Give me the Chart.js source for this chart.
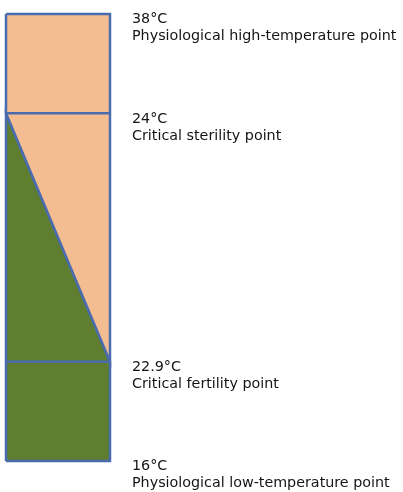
<!DOCTYPE html>
<html>
<head>
<meta charset="utf-8">
<script src="https://cdn.jsdelivr.net/npm/chart.js@4.4.0/dist/chart.umd.min.js"></script>
<style>
  html, body { margin: 0; padding: 0; background: #fff; }
  #wrap { width: 403px; height: 492px; }
</style>
</head>
<body>
<div id="wrap"><canvas id="temp-chart"></canvas></div>
<script>
const temperatures = ['38°C', '24°C', '22.9°C', '16°C'];
const pointNames = [
    'Physiological high-temperature point',
    'Critical sterility point',
    'Critical fertility point',
    'Physiological low-temperature point'
];
// height of each point in the column (schematic, not to scale)
const levels = [4.5, 3.5, 1, 0];

const peach = '#F3BD91';
const green = '#5F7E30';
const blue = '#4A6BAE';

document.addEventListener('DOMContentLoaded', () => {
    const ctx = document.getElementById('temp-chart').getContext('2d');

    const [top, sterile, fertile, bottom] = levels;

    // upper part: above the diagonal from sterility point to fertility point
    const peachShape = [
        { x: 0, y: top }, { x: 1, y: top }, { x: 1, y: fertile },
        { x: 0, y: sterile }, { x: 0, y: top }
    ];
    // lower part: below the diagonal
    const greenShape = [
        { x: 0, y: bottom }, { x: 1, y: bottom }, { x: 1, y: fertile },
        { x: 0, y: sterile }, { x: 0, y: bottom }
    ];

    const shapeStyle = {
        showLine: true,
        fill: 'shape',
        borderColor: blue,
        borderWidth: 2.5,
        pointRadius: 0,
        tension: 0,
        clip: false
    };

    new Chart(ctx, {
        type: 'scatter',
        data: {
            datasets: [
                { data: [{ x: 0, y: sterile }, { x: 1, y: sterile }], showLine: true, borderColor: blue, borderWidth: 2.5, pointRadius: 0, clip: false },
                { data: [{ x: 0, y: fertile }, { x: 1, y: fertile }], showLine: true, borderColor: blue, borderWidth: 2.5, pointRadius: 0, clip: false },
                { ...shapeStyle, data: peachShape, backgroundColor: peach },
                { ...shapeStyle, data: greenShape, backgroundColor: green }
            ]
        },
        options: {
            responsive: true,
            maintainAspectRatio: false,
            animation: false,
            layout: { padding: { left: 6, top: 14, bottom: 31, right: 0 } },
            plugins: { legend: { display: false }, tooltip: { enabled: false } },
            scales: {
                x: { type: 'linear', min: 0, max: 1, display: false },
                y: {
                    type: 'linear',
                    position: 'right',
                    min: bottom,
                    max: top,
                    grid: { display: false, drawTicks: false },
                    border: { display: false },
                    afterBuildTicks: (scale) => {
                        scale.ticks = levels.map(v => ({ value: v }));
                    },
                    afterFit: (scale) => {
                        scale.width = 293;
                        scale.paddingTop = 0;
                        scale.paddingBottom = 0;
                    },
                    ticks: {
                        padding: 22,
                        crossAlign: 'near',
                        labelOffset: 14,
                        color: '#151515',
                        font: { family: 'DejaVu Sans', size: 14.3, lineHeight: '17px' },
                        callback: (value) => {
                            const i = levels.indexOf(value);
                            return [temperatures[i], pointNames[i]];
                        }
                    }
                }
            }
        }
    });
});
</script>
</body>
</html>
